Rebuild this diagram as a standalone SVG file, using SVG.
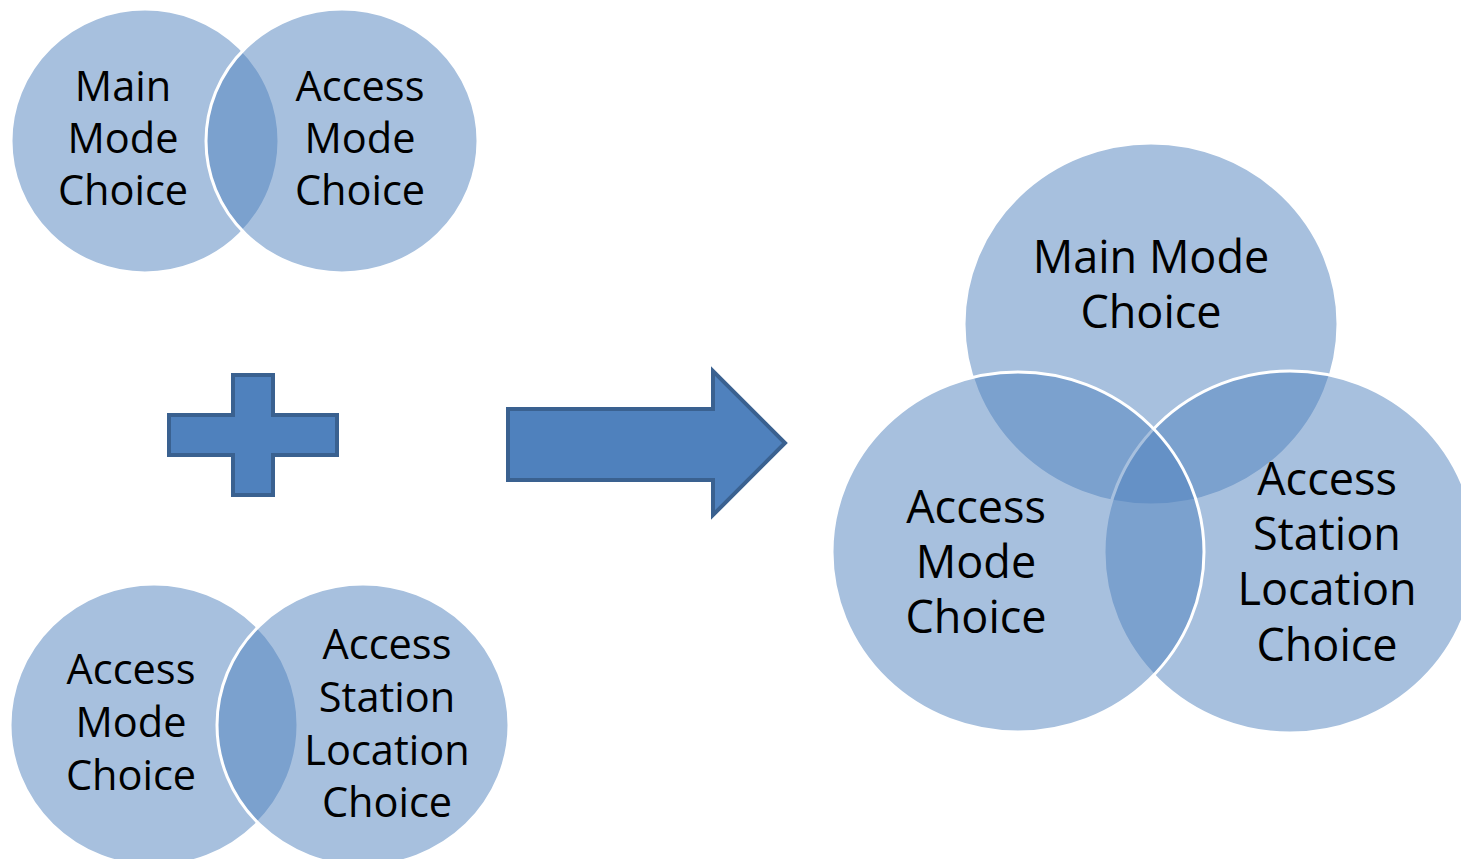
<svg xmlns="http://www.w3.org/2000/svg" width="1461" height="859" viewBox="0 0 1461 859">
  <style>
    .set { fill: #4f81bd; fill-opacity: 0.5; stroke: #ffffff; stroke-width: 3; }
    .lbl { font-family: "Open Sans", "Liberation Sans", sans-serif; fill: #000000; text-anchor: middle; }
    .sm { font-size: 41.5px; }
    .lg { font-size: 45px; }
    .shape { fill: #4f81bd; stroke: #3a6190; stroke-width: 4; stroke-linejoin: miter; }
  </style>

  <!-- Pair 1: main mode + access mode -->
  <g id="pair-main-access">
    <g id="p1-main-mode">
      <ellipse class="set" cx="145" cy="141" rx="134" ry="132"/>
      <text class="lbl sm"><tspan x="123" y="101">Main</tspan><tspan x="123" y="153">Mode</tspan><tspan x="123" y="205">Choice</tspan></text>
    </g>
    <g id="p1-access-mode">
      <ellipse class="set" cx="342" cy="141" rx="136" ry="132"/>
      <text class="lbl sm"><tspan x="360" y="101">Access</tspan><tspan x="360" y="153">Mode</tspan><tspan x="360" y="205">Choice</tspan></text>
    </g>
  </g>

  <!-- Plus sign -->
  <g id="plus">
    <path class="shape" d="M233 375 H273 V415 H337 V455 H273 V495 H233 V455 H169 V415 H233 Z"/>
  </g>

  <!-- Pair 2: access mode + access station location -->
  <g id="pair-access-station">
    <g id="p2-access-mode">
      <ellipse class="set" cx="154" cy="725" rx="144" ry="141"/>
      <text class="lbl sm"><tspan x="131" y="684">Access</tspan><tspan x="131" y="737">Mode</tspan><tspan x="131" y="790">Choice</tspan></text>
    </g>
    <g id="p2-station-location">
      <ellipse class="set" cx="363" cy="725" rx="146" ry="141"/>
      <text class="lbl sm"><tspan x="387" y="659">Access</tspan><tspan x="387" y="712">Station</tspan><tspan x="387" y="765">Location</tspan><tspan x="387" y="817">Choice</tspan></text>
    </g>
  </g>

  <!-- Block arrow -->
  <g id="connectors">
    <path class="shape" d="M508 409 H713 V371 L785 443 L713 515 V480 H508 Z"/>
  </g>

  <!-- Combined three-set diagram -->
  <g id="combined">
    <g id="c-main-mode">
      <ellipse class="set" cx="1151" cy="324" rx="187" ry="181"/>
      <text class="lbl lg"><tspan x="1151" y="273">Main Mode</tspan><tspan x="1151" y="328">Choice</tspan></text>
    </g>
    <g id="c-station-location">
      <ellipse class="set" cx="1290" cy="552" rx="186" ry="181"/>
      <text class="lbl lg"><tspan x="1327" y="495">Access</tspan><tspan x="1327" y="550">Station</tspan><tspan x="1327" y="605">Location</tspan><tspan x="1327" y="661">Choice</tspan></text>
    </g>
    <g id="c-access-mode">
      <ellipse class="set" cx="1018" cy="552" rx="186" ry="180"/>
      <text class="lbl lg"><tspan x="976" y="523">Access</tspan><tspan x="976" y="578">Mode</tspan><tspan x="976" y="633">Choice</tspan></text>
    </g>
  </g>
</svg>
